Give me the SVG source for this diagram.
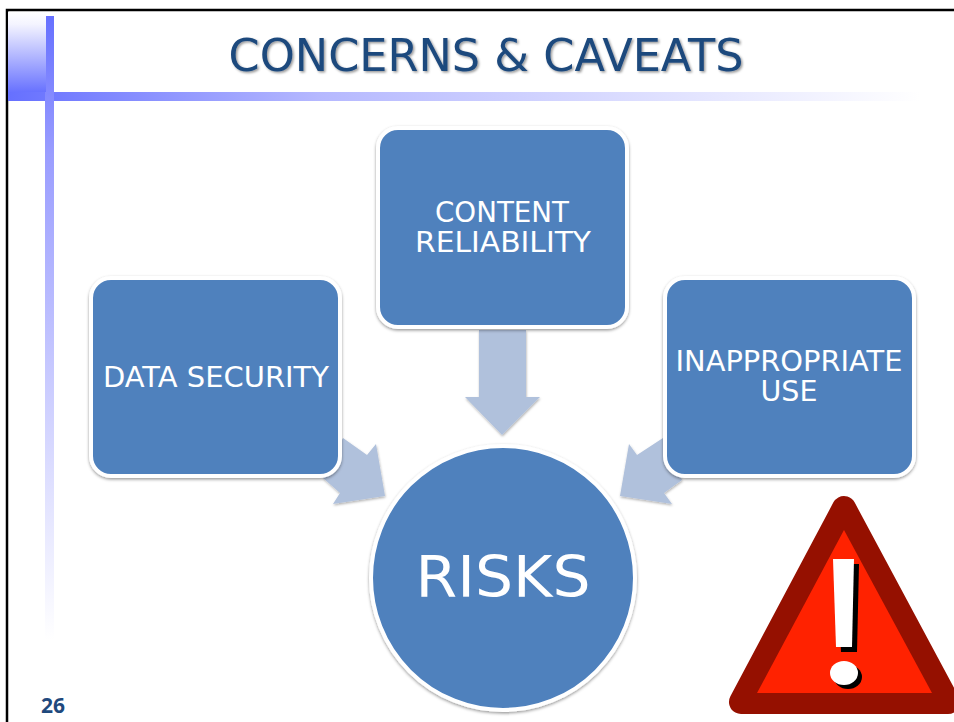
<svg xmlns="http://www.w3.org/2000/svg" width="954" height="722" viewBox="0 0 954 722">
<style>
.box{fill:#4f81bd;stroke:#fff;stroke-width:4;filter:url(#sh)}
.arr{fill:#b0c1dc;filter:url(#sha)}
.lab{font-family:"DejaVu Sans","Noto Sans",sans-serif;fill:#fff;font-size:28px;text-anchor:middle}
</style>
<defs>
<linearGradient id="sq" x1="0" y1="0" x2="0" y2="1"><stop offset="0" stop-color="#fff"/><stop offset="0.15" stop-color="#f4f4ff"/><stop offset="1" stop-color="#6670ff"/></linearGradient>
<linearGradient id="hb" x1="0" y1="0" x2="1" y2="0"><stop offset="0" stop-color="#6670ff"/><stop offset="0.34" stop-color="#b5b8ff"/><stop offset="1" stop-color="#fff"/></linearGradient>
<linearGradient id="vb" gradientUnits="userSpaceOnUse" x1="0" y1="16" x2="0" y2="640"><stop offset="0" stop-color="#6670ff"/><stop offset="0.22" stop-color="#9a9dff"/><stop offset="1" stop-color="#fff"/></linearGradient>
<filter id="sh" x="-10%" y="-10%" width="120%" height="120%"><feDropShadow dx="0" dy="1.5" stdDeviation="1.5" flood-color="#000" flood-opacity="0.4"/></filter>
<filter id="sha" x="-10%" y="-10%" width="120%" height="120%"><feDropShadow dx="0.5" dy="1.5" stdDeviation="1" flood-color="#000" flood-opacity="0.3"/></filter>
<filter id="tsh" x="-5%" y="-10%" width="110%" height="130%"><feDropShadow dx="1.5" dy="1.5" stdDeviation="1" flood-color="#000" flood-opacity="0.4"/></filter>
</defs>
<rect width="954" height="722" fill="#fff"/>
<path d="M7 722V10H954" fill="none" stroke="#000" stroke-width="2.5"/>
<g id="decor">
<rect x="8" y="12" width="38" height="81" fill="url(#sq)"/>
<rect x="8" y="92" width="912" height="9" fill="url(#hb)"/>
<rect x="46" y="16" width="8" height="76" fill="url(#vb)"/>
<rect x="45" y="92" width="9" height="548" fill="url(#vb)"/>
</g>
<text id="title" x="486" y="71" font-family="'DejaVu Sans','Noto Sans',sans-serif" font-size="44" fill="#1f497d" text-anchor="middle" textLength="515" lengthAdjust="spacingAndGlyphs" filter="url(#tsh)">CONCERNS &amp; CAVEATS</text>
<g id="connectors">
<polygon class="arr" points="479,330 526,330 526,397 540,397 502,435 465,397 479,397"/>
<polygon class="arr" points="343,438 367,455 376,444 385,496 333,504 340,493 323,478"/>
<polygon class="arr" points="663,438 637,455 629,444 620,496 672,504 664,493 682,480"/>
</g>
<g id="node-content"><rect class="box" x="378" y="128" width="249" height="199" rx="20"/>
<text class="lab" x="502" y="222" textLength="134" lengthAdjust="spacingAndGlyphs">CONTENT</text><text class="lab" x="503" y="252" textLength="176" lengthAdjust="spacingAndGlyphs">RELIABILITY</text></g>
<g id="node-data"><rect class="box" x="91" y="278" width="249" height="198" rx="20"/>
<text class="lab" x="216" y="387" textLength="226" lengthAdjust="spacingAndGlyphs">DATA SECURITY</text></g>
<g id="node-use"><rect class="box" x="665" y="278" width="249" height="198" rx="20"/>
<text class="lab" x="789" y="371" textLength="227" lengthAdjust="spacingAndGlyphs">INAPPROPRIATE</text><text class="lab" x="789" y="401" textLength="57" lengthAdjust="spacingAndGlyphs">USE</text></g>
<g id="node-risks"><circle class="box" cx="503" cy="578" r="132"/>
<text class="lab" x="503" y="597" style="font-size:57px" textLength="175" lengthAdjust="spacingAndGlyphs">RISKS</text></g>
<g id="warning">
<polygon points="844,508 741,702 948,702" fill="#951000" stroke="#951000" stroke-width="24" stroke-linejoin="round"/>
<polygon points="844,530 757,693 932,693" fill="#ff2200"/>
<polygon points="838,564 859,564 857,652 841,652" fill="#000"/>
<ellipse cx="848" cy="677" rx="14" ry="12" fill="#000"/>
<polygon points="833,559 854,559 852,647 836,647" fill="#fff"/>
<ellipse cx="844" cy="673" rx="14" ry="12" fill="#fff"/>
</g>
<text id="page" x="41" y="713" font-family="'Open Sans','Noto Sans',sans-serif" font-weight="700" font-size="21" fill="#1f497d">26</text>
</svg>
